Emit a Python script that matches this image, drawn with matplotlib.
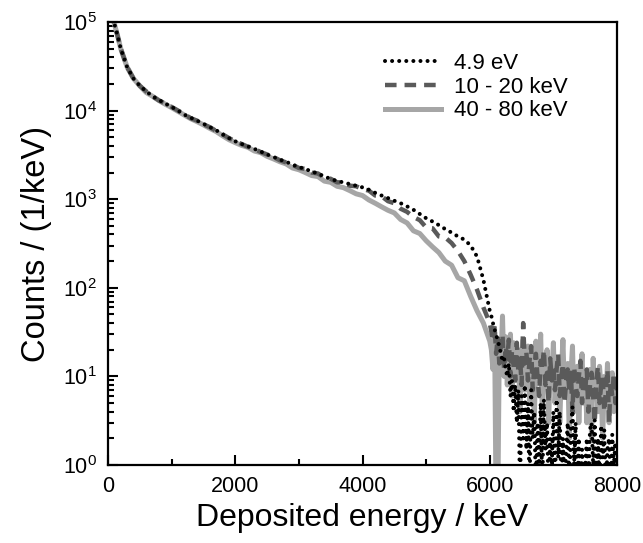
import numpy as np
import matplotlib
matplotlib.use('Agg')
from matplotlib import pyplot as plt

plt.rcParams['font.family'] = ['Liberation Sans', 'DejaVu Sans']

# bin centres (keV): coarse in the smooth part, fine in the noisy tail
energy_main = [50, 100, 150, 200, 300] + list(range(400, 6001, 100))
energy_tail = list(range(6025, 8001, 25))
energy = energy_main + energy_tail

labels = ['4.9 eV', '10 - 20 keV', '40 - 80 keV']

# 4.9 eV
counts_a_main = [1.3e5, 9.5e4, 7.0e4, 5.0e4, 3.1e4,
                 2.3e4, 1.9e4, 1.65e4, 1.45e4, 1.32e4, 1.2e4, 1.1e4, 1.0e4, 9.0e3, 8.3e3,
                 7.7e3, 7.1e3, 6.5e3, 6.0e3, 5.4e3, 4.9e3, 4.5e3, 4.2e3, 3.95e3, 3.7e3,
                 3.45e3, 3.2e3, 3.0e3, 2.8e3, 2.65e3, 2.45e3, 2.3e3, 2.2e3, 2.05e3, 1.95e3,
                 1.8e3, 1.7e3, 1.6e3, 1.55e3, 1.48e3, 1.42e3, 1.36e3, 1.28e3, 1.18e3, 1.1e3,
                 1.03e3, 960, 900, 830, 760, 680, 610, 560, 510, 460,
                 420, 380, 350, 300, 225, 123, 55]
counts_a_tail = [48, 40, 34, 30, 25, 22, 18, 15, 16, 12,
                 10, 14, 6, 9, 4, 8, 3, 7, 0.5, 6,
                 2, 8, 1.5, 5, 0.5, 7, 2, 4, 0.5, 3,
                 1, 5, 0.5, 5.5, 1.5, 3, 0.5, 2, 1, 4,
                 0.5, 5.5, 1.2, 4, 0.5, 2, 0.5, 1.5, 3, 0.5,
                 2.5, 4.5, 1, 3, 0.5, 2, 0.5, 1.5, 0.5, 1,
                 2, 0.5, 2.5, 3, 1, 3.2, 0.5, 2, 0.5, 2.8,
                 1.2, 2.5, 0.5, 1.5, 2, 0.5, 2.2, 1, 1.8, 0.5]

# 10 - 20 keV
counts_b_main = [1.3e5, 9.5e4, 7.0e4, 5.0e4, 3.1e4,
                 2.3e4, 1.9e4, 1.65e4, 1.45e4, 1.3e4, 1.2e4, 1.1e4, 1.0e4, 9.1e3, 8.2e3,
                 7.7e3, 7.0e3, 6.5e3, 5.9e3, 5.4e3, 4.9e3, 4.5e3, 4.2e3, 3.9e3, 3.7e3,
                 3.4e3, 3.2e3, 3.0e3, 2.75e3, 2.6e3, 2.45e3, 2.25e3, 2.2e3, 2.0e3, 1.95e3,
                 1.75e3, 1.7e3, 1.55e3, 1.55e3, 1.42e3, 1.4e3, 1.3e3, 1.25e3, 1.1e3, 1.08e3,
                 950, 900, 780, 720, 630, 580, 480, 470, 380, 370,
                 320, 260, 200, 140, 95, 60, 40]
counts_b_tail = [32, 25, 38, 18, 28, 14, 24, 30, 12, 22,
                 16, 26, 10, 20, 13, 9, 24, 11, 17, 8,
                 40, 14, 19, 9, 15, 22, 7, 13, 18, 10,
                 6, 15, 12, 20, 8, 11, 5, 16, 9, 13,
                 7, 12, 18, 6, 10, 14, 5, 9, 12, 7,
                 11, 4, 13, 8, 6, 10, 15, 5, 9, 7,
                 12, 4, 8, 11, 6, 3, 9, 13, 5, 8,
                 10, 4, 7, 12, 3, 9, 6, 11, 5, 8]

# 40 - 80 keV
counts_c_main = [1.3e5, 9.5e4, 7.0e4, 5.0e4, 3.1e4,
                 2.3e4, 1.9e4, 1.6e4, 1.45e4, 1.3e4, 1.18e4, 1.08e4, 9.8e3, 8.9e3, 8.1e3,
                 7.5e3, 6.9e3, 6.3e3, 5.8e3, 5.2e3, 4.7e3, 4.35e3, 4.05e3, 3.85e3, 3.5e3,
                 3.35e3, 3.05e3, 2.85e3, 2.65e3, 2.5e3, 2.25e3, 2.15e3, 2.0e3, 1.85e3, 1.8e3,
                 1.6e3, 1.55e3, 1.4e3, 1.35e3, 1.25e3, 1.15e3, 1.1e3, 980, 900, 820,
                 750, 700, 590, 540, 440, 410, 340, 290, 250, 200,
                 180, 130, 120, 80, 55, 40, 25]
counts_c_tail = [20, 12, 35, 0.3, 0.3, 22, 15, 48, 10, 28,
                 8, 18, 30, 6, 24, 12, 9, 20, 4, 15,
                 26, 7, 14, 22, 5, 12, 18, 3, 25, 9,
                 11, 30, 4, 16, 8, 20, 3, 13, 10, 24,
                 5, 9, 15, 3, 11, 26, 6, 8, 14, 2,
                 10, 22, 4, 7, 13, 3, 9, 18, 5, 11,
                 3, 8, 12, 2, 16, 6, 9, 4, 13, 7,
                 2, 10, 5, 14, 3, 8, 11, 4, 9, 6]

counts_a = counts_a_main + counts_a_tail
counts_b = counts_b_main + counts_b_tail
counts_c = counts_c_main + counts_c_tail

fig = plt.figure(figsize=(6.43, 5.43), dpi=100)
ax = fig.add_axes([0.168, 0.1436, 0.7916, 0.8159])

# light grey first, black dots on top
lc, = ax.plot(energy, counts_c, color='#a6a6a6', lw=3.6)
lb, = ax.plot(energy, counts_b, color='#5a5a5a', lw=3.2, linestyle=(0, (2.6, 1.8)))
la, = ax.plot(energy, counts_a, color='black', lw=2.9, linestyle=(0, (0.01, 1.75)),
              dash_capstyle='round')

ax.set_yscale('log')
ax.set_xlim(0, 8000)
ax.set_ylim(1, 1e5)
ax.set_xticks([0, 2000, 4000, 6000, 8000])
ax.set_xticks([1000, 3000, 5000, 7000], minor=True)

ax.tick_params(axis='both', which='both', direction='in', top=False, right=False,
               labelsize=15.5, width=1.5)
ax.tick_params(which='major', length=7, pad=8)
ax.tick_params(which='minor', length=4)
for s in ax.spines.values():
    s.set_linewidth(1.6)

ax.set_xlabel('Deposited energy / keV', fontsize=23, labelpad=4)
ax.set_ylabel('Counts / (1/keV)', fontsize=23.5, labelpad=8)

ax.legend([la, lb, lc], labels, loc='upper right', bbox_to_anchor=(0.925, 0.955),
          frameon=False, fontsize=16, handlelength=2.5, handletextpad=0.6,
          labelspacing=0.12, borderpad=0)

plt.savefig('out.png', dpi=100)
